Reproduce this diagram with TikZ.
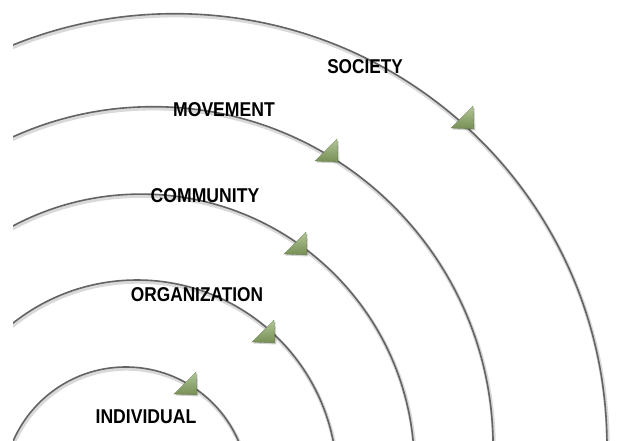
\documentclass[tikz,border=0pt]{standalone}
\usepackage{graphicx}
\usepackage{fontspec}
\setmainfont{Liberation Sans}
\definecolor{arcgray}{HTML}{646464}
\definecolor{trilight}{HTML}{B2C697}
\definecolor{tridark}{HTML}{768E55}
\begin{document}
\begin{tikzpicture}[x=1pt,y=-1pt,
  arcline/.style={draw=arcgray,line width=1.6pt},
  arcshadow/.style={draw=black!15,line width=3.8pt},
  lbl/.style={anchor=base,inner sep=0pt,font=\fontsize{20}{21}\selectfont\bfseries},
  tri/.style={top color=trilight,bottom color=tridark,draw=tridark!85!black,line width=0.3pt},
  trishadow/.style={fill=black,opacity=0.18}]
\useasboundingbox (0,0) rectangle (619,440);
\fill[white] (0,0) rectangle (619,440);
\begin{scope}
  \clip (13,0) rectangle (619,440);
  \foreach \cx/\cy/\r in {174.7/446/432.3, 153.1/446.7/340, 141.1/467.4/273.3, 137/480/200, 125.8/489.7/122.7}{
    \draw[arcshadow] (\cx+0.8,\cy+1.8) circle[radius=\r pt];
    \draw[arcline] (\cx,\cy) circle[radius=\r pt];
  }
\end{scope}
\foreach \x/\y in {474/129, 338/162, 307/255, 275/343, 197/395}{
  \fill[trishadow] (\x+1.5,\y+1.5) -- ++(-1,-23) -- ++(-22,22) -- cycle;
  \shade[tri] (\x,\y) -- ++(-1,-23) -- ++(-22,22) -- cycle;
}
\node[lbl] (society) at (365,73) {\scalebox{0.86}[1]{SOCIETY}};
\node[lbl] (movement) at (224,116) {\scalebox{0.88}[1]{MOVEMENT}};
\node[lbl] (community) at (205,202) {\scalebox{0.88}[1]{COMMUNITY}};
\node[lbl] (organization) at (197,301) {\scalebox{0.865}[1]{ORGANIZATION}};
\node[lbl] (individual) at (146,423) {\scalebox{0.88}[1]{INDIVIDUAL}};
\end{tikzpicture}
\end{document}
